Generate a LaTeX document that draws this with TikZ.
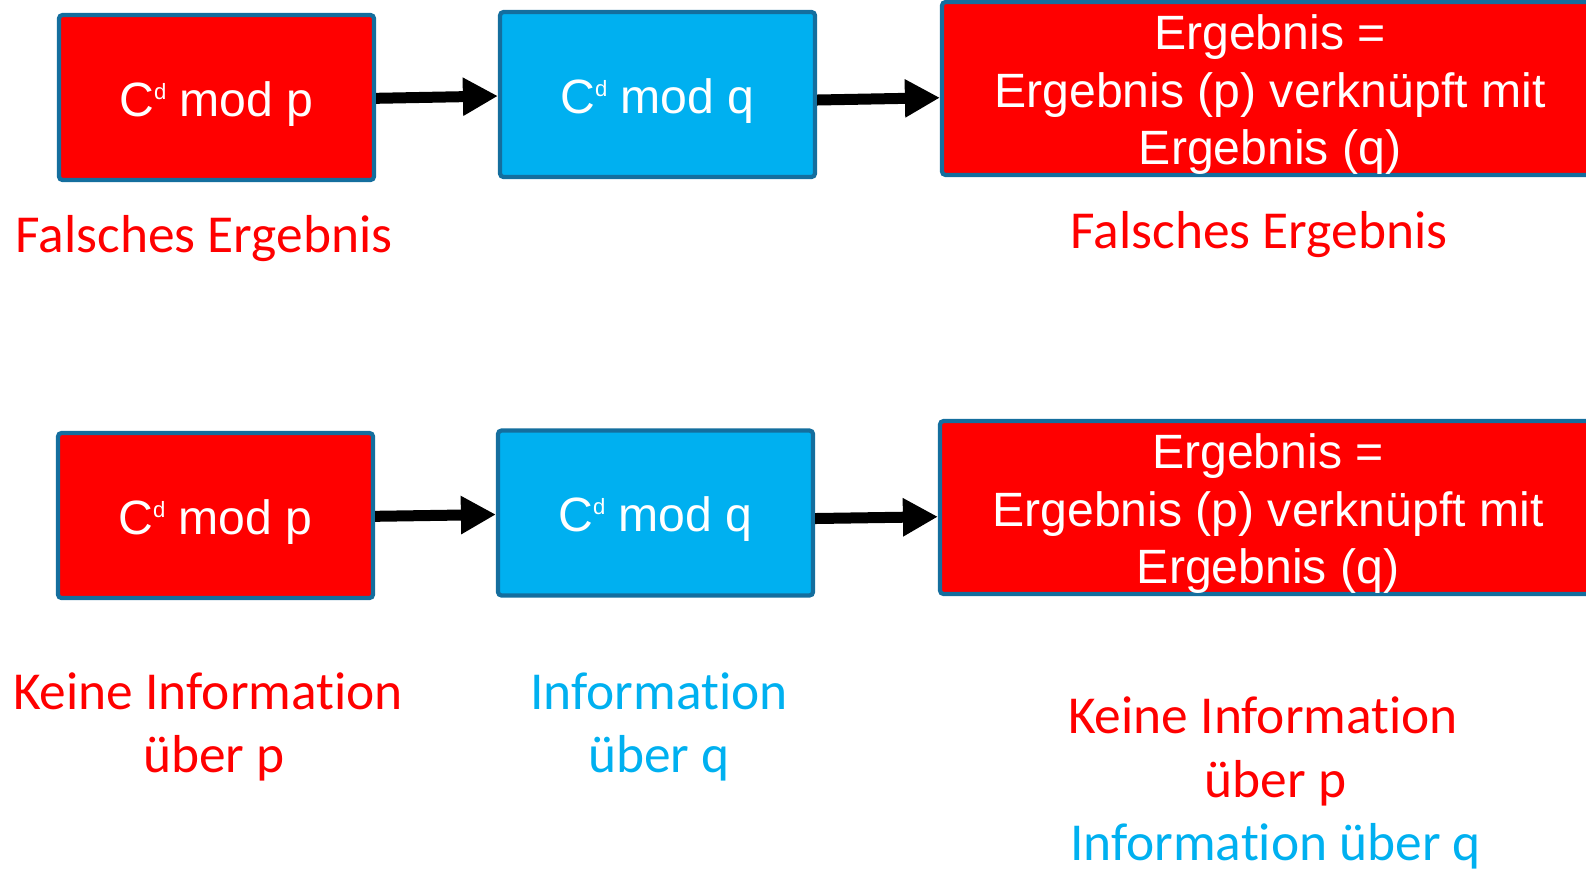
\documentclass[tikz,border=0pt]{standalone}
\usepackage{fontspec}
\setmainfont{Liberation Sans}
\newfontfamily\crtlabelfont[Ligatures=NoCommon]{Carlito}
\usepackage{xcolor}
\usepackage{tikz}
\usetikzlibrary{arrows.meta,positioning}
\definecolor{crtred}{RGB}{255,0,0}
\definecolor{crtblue}{RGB}{0,176,240}
\definecolor{crtedge}{RGB}{20,110,158}
% small raised exponent and box text set a little low
\newcommand{\crtsup}[1]{\raisebox{1.67mm}{\fontsize{6.3}{7}\selectfont #1}}
\newcommand{\crtboxtext}[1]{%
  \raisebox{-0.7mm}[\height][\depth]{\begin{tabular}{@{}c@{}}#1\end{tabular}}}
\tikzset{
  crtstage/.style={
    rounded corners=1pt,
    draw=crtedge,
    line width=1.2pt,
    align=center,
    inner sep=0pt,
    text=white,
    minimum width=31.5mm,
    minimum height=16.5mm,
    font=\fontsize{13.7}{16.4}\selectfont
  },
  crtmodp/.style={crtstage,fill=crtred},
  crtmodq/.style={crtstage,fill=crtblue},
  crtresult/.style={crtstage,fill=crtred,minimum width=65.6mm},
  crtflow/.style={-{Triangle[length=3.5mm,width=3.6mm]},line width=1.1mm,black},
  crtlabel/.style={align=center,inner sep=0pt,
                   font=\crtlabelfont\fontsize{15.2}{18}\selectfont}
}
\begin{document}
\begin{tikzpicture}[x=1cm,y=1cm]
  \useasboundingbox (0,0) rectangle (15.86,-8.68);

  % faulty exponentiation mod p
  \node[crtmodp] (p1) at (2.165,-0.975) {\crtboxtext{C\crtsup{d} mod p}};
  \node[crtmodq] (q1) at (6.575,-0.945) {\crtboxtext{C\crtsup{d} mod q}};
  \node[crtresult] (erg1) at (12.70,-0.885)
    {\crtboxtext{Ergebnis =\\Ergebnis (p) verknüpft mit\\Ergebnis (q)}};

  \draw[crtflow] ([yshift=-0.08mm]p1.east) -- ([yshift=-0.15mm]q1.west);
  \draw[crtflow] ([yshift=-0.55mm]q1.east) -- ([yshift=-0.92mm]erg1.west);

  \node[crtlabel,text=crtred] (fp1) at (2.04,-2.39) {Falsches Ergebnis};
  \node[crtlabel,text=crtred] (ferg1) at (12.59,-2.35) {Falsches Ergebnis};

  % what leaks about p and q
  \node[crtmodp] (p2) at (2.155,-5.155) {\crtboxtext{C\crtsup{d} mod p}};
  \node[crtmodq] (q2) at (6.555,-5.13) {\crtboxtext{C\crtsup{d} mod q}};
  \node[crtresult] (erg2) at (12.68,-5.075)
    {\crtboxtext{Ergebnis =\\Ergebnis (p) verknüpft mit\\Ergebnis (q)}};

  \draw[crtflow] ([yshift=-0.08mm]p2.east) -- ([yshift=-0.15mm]q2.west);
  \draw[crtflow] ([yshift=-0.55mm]q2.east) -- ([yshift=-0.92mm]erg2.west);

  \node[crtlabel,text=crtred] (kp2) at (2.14,-7.27)
    {Keine Information\kern1.2mm\\über p};
  \node[crtlabel,text=crtblue] (iq2) at (6.59,-7.27) {Information\\über q};
  \node[crtlabel] (kerg2) at (12.755,-7.83)
    {\textcolor{crtred}{Keine Information}\kern2.5mm\\\textcolor{crtred}{über p}\\
     \textcolor{crtblue}{Information über q}};
\end{tikzpicture}
\end{document}
